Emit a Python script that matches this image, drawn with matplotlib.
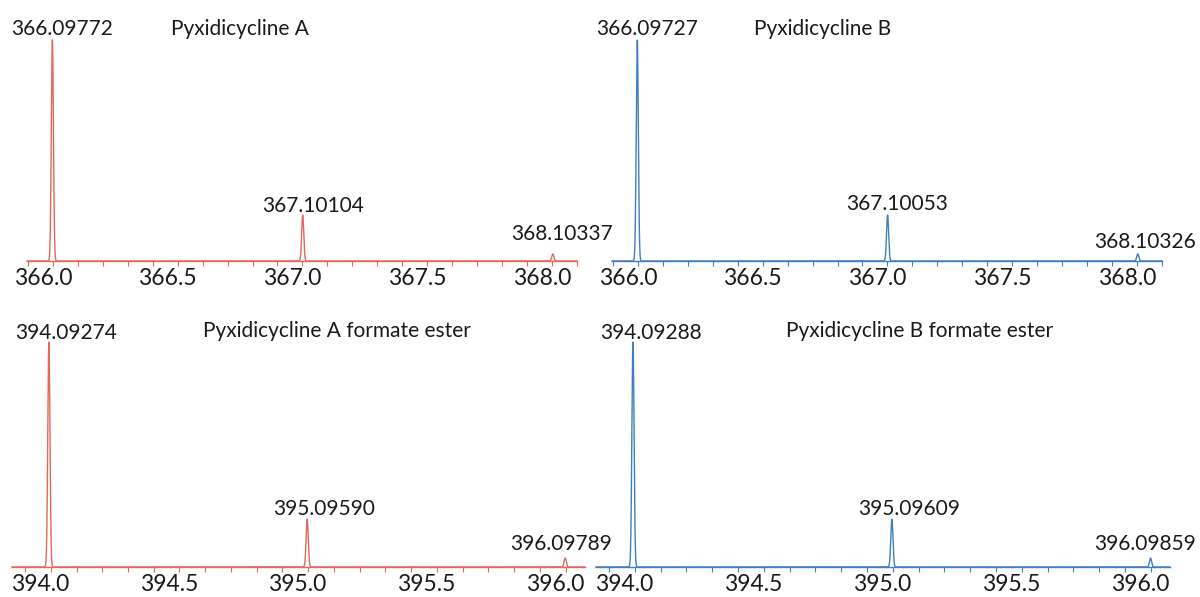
import numpy as np
import matplotlib
matplotlib.use("Agg")
import matplotlib.pyplot as plt
import matplotlib.transforms as mtransforms

plt.rcParams['font.family'] = ['Lato', 'DejaVu Sans']

# peak centroids (m/z) and relative intensities
mz_a = [366.09772, 367.10104, 368.10337]
int_a = [100, 20.8, 3.2]
mz_b = [366.09727, 367.10053, 368.10326]
int_b = [100, 20.8, 3.2]
mz_a_fe = [394.09274, 395.09590, 396.09789]
int_a_fe = [100, 21.3, 4.0]
mz_b_fe = [394.09288, 395.09609, 396.09859]
int_b_fe = [100, 21.3, 4.0]

titles = ['Pyxidicycline A', 'Pyxidicycline B',
          'Pyxidicycline A formate ester', 'Pyxidicycline B formate ester']

RED = '#E2685C'
BLUE = '#3F7EBF'
TXT = '#1a1a1a'

W, H = 1200, 597
fig = plt.figure(figsize=(W / 100, H / 100), dpi=100)

# (left px, axis width px, baseline px, height px, xlim, title x, label offsets px)
panels = [
    (27, 550, 261, 221, (365.996, 368.2004), 366.85, [(10, 5), (10, 3), (9, 14)]),
    (612, 550, 261, 221, (365.996, 368.2004), 366.84, [(10, 5), (10, 5), (7, 6)]),
    (12, 573, 567, 225, (393.9495, 396.1748), 395.21, [(17, 3), (17, 4), (-4, 8)]),
    (596, 574, 567, 225, (393.9496, 396.174), 395.205, [(18, 3), (17, 4), (-6, 8)]),
]
series = [(mz_a, int_a, RED), (mz_b, int_b, BLUE),
          (mz_a_fe, int_a_fe, RED), (mz_b_fe, int_b_fe, BLUE)]

sigma = 0.0042  # peak width used to draw the profile

for (left, width, base, height, xlim, tx, offs), (mz, inten, col), title in zip(panels, series, titles):
    ax = fig.add_axes([left / W, 1 - base / H, width / W, height / H])
    ax.set_facecolor('none')
    x = np.linspace(xlim[0], xlim[1], 8000)
    y = np.zeros_like(x)
    for m, i in zip(mz, inten):
        y += i * np.exp(-0.5 * ((x - m) / sigma) ** 2)
    ax.plot(x, y, color=col, lw=1.0, clip_on=False)

    ax.set_xlim(*xlim)
    ax.set_ylim(0, 100)
    for s in ['left', 'top', 'right']:
        ax.spines[s].set_visible(False)
    ax.spines['bottom'].set_color(col)
    ax.spines['bottom'].set_linewidth(1.0)
    ax.set_yticks([])

    lo = np.ceil(xlim[0] * 2) / 2
    ax.set_xticks(np.arange(lo, xlim[1], 0.5))
    ax.set_xticks(np.arange(np.ceil(xlim[0] * 10) / 10, xlim[1], 0.1), minor=True)
    ax.xaxis.set_major_formatter(matplotlib.ticker.FormatStrFormatter('%.1f'))
    ax.tick_params(axis='x', which='both', direction='out', length=3.6, width=0.8,
                   color=col, labelcolor=TXT, labelsize=16.5, pad=1.5)
    shift = mtransforms.ScaledTranslation(15 / 100, 0, fig.dpi_scale_trans)
    for lab in ax.get_xticklabels():
        lab.set_transform(lab.get_transform() + shift)

    for m, i, (dx, dy) in zip(mz, inten, offs):
        ax.annotate('%.5f' % m, xy=(m, i), xytext=(dx, dy), textcoords='offset pixels',
                    ha='center', va='baseline', fontsize=15, color=TXT,
                    annotation_clip=False, zorder=5)

    ax.annotate(title, xy=(tx, 100), xytext=(0, 5), textcoords='offset pixels',
                ha='center', va='baseline', fontsize=15, color=TXT,
                annotation_clip=False)

fig.savefig('out.png', dpi=100)
